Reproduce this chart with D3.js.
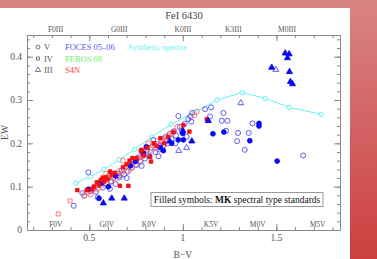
<!DOCTYPE html>
<html>
<head>
<meta charset="utf-8">
<script src="https://cdn.jsdelivr.net/npm/d3@7"></script>
<style>
  body { margin: 0; background: #d98080; }
  svg { display: block; }
</style>
</head>
<body>
<script>
// FeI 6430 equivalent width vs B-V

// synthetic spectra curve
var synthBV = [0.427, 0.504, 0.579, 0.659, 0.742, 0.835, 0.937, 1.06, 1.183, 1.317, 1.44, 1.568, 1.739];
var synthEW = [0.108, 0.123, 0.140, 0.162, 0.186, 0.215, 0.244, 0.271, 0.300, 0.317, 0.304, 0.283, 0.267];

// FOCES 05-06 (blue) [B-V, EW]
var focesOpenV = [[0.417,0.056],[0.463,0.085],[0.473,0.079],[0.495,0.133],[0.505,0.09],[0.52,0.097],[0.535,0.088],
  [0.548,0.104],[0.56,0.112],[0.572,0.098],[0.583,0.118],[0.595,0.106],[0.605,0.125],[0.618,0.112],[0.628,0.12],
  [0.64,0.106],[0.65,0.13],[0.662,0.122],[0.674,0.138],[0.686,0.128],[0.695,0.146],[0.706,0.135],[0.718,0.152],
  [0.728,0.144],[0.74,0.16],[0.752,0.15],[0.763,0.168],[0.774,0.158],[0.786,0.176],[0.797,0.165],[0.808,0.185],
  [0.82,0.172],[0.832,0.19],[0.842,0.208],[0.853,0.18],[0.864,0.198],[0.875,0.186],[0.886,0.205],[0.897,0.195],
  [0.908,0.215],[0.918,0.2],[0.93,0.222],[0.94,0.21],[0.952,0.228],[0.963,0.218],[0.976,0.263],[0.985,0.238],
  [0.995,0.23],[1.01,0.245],[1.029,0.256],[1.045,0.25],[1.05,0.27],[1.04,0.262],[1.119,0.279],[1.151,0.283],
  [1.145,0.262],[1.217,0.270],[1.208,0.252],[1.238,0.252],[1.372,0.246],[1.231,0.229],[1.295,0.224],[1.352,0.224],
  [1.29,0.205],[1.331,0.185],[1.643,0.172],[0.545,0.075],[0.61,0.095],[0.7,0.12],[0.78,0.148],[0.87,0.17],
  [0.96,0.2],[1.02,0.215]];
var focesOpenIV = [[0.66,0.125],[0.82,0.17]];
var focesOpenIII = [[1.497,0.370],[1.310,0.293],[0.978,0.183],[1.02,0.19]];
var focesFilledV = [[0.495,0.094],[0.552,0.073],[0.565,0.108],[0.602,0.1],[0.64,0.125],[0.72,0.148],[0.747,0.158],
  [0.789,0.177],[0.805,0.192],[0.88,0.19],[0.896,0.183],[0.94,0.2],[0.976,0.208],[0.999,0.223],[1.003,0.208],
  [1.161,0.222],[1.219,0.226],[1.358,0.206],[1.407,0.246],[1.407,0.240],[1.504,0.159]];
var focesFilledIII = [[0.575,0.062],[0.62,0.073],[0.687,0.073],[0.93,0.205],[1.0,0.229],[1.048,0.205],[1.136,0.252],
  [1.547,0.408],[1.568,0.406],[1.559,0.397],[1.475,0.375],[1.570,0.365],[1.575,0.342],[1.586,0.337]];

// S4N (red)
var s4nOpenV = [[0.473,0.08],[0.49,0.086],[0.505,0.082],[0.52,0.092],[0.53,0.1],[0.545,0.095],[0.553,0.108],
  [0.565,0.103],[0.575,0.114],[0.588,0.108],[0.6,0.12],[0.612,0.112],[0.625,0.128],[0.638,0.118],[0.65,0.124],
  [0.66,0.136],[0.672,0.13],[0.685,0.142],[0.698,0.136],[0.71,0.15],[0.722,0.142],[0.735,0.158],[0.748,0.152],
  [0.76,0.165],[0.772,0.16],[0.785,0.17],[0.8,0.178],[0.815,0.2],[0.828,0.185],[0.84,0.195],[0.852,0.188],
  [0.865,0.205],[0.88,0.196],[0.895,0.21],[0.91,0.205],[0.925,0.218],[0.945,0.225],[0.97,0.238],[1.06,0.265],
  [1.074,0.273],[0.59,0.13],[0.68,0.16]];
var s4nOpenIV = [[0.334,0.037],[0.397,0.067]];
var s4nFilled = [[0.436,0.092],[0.486,0.092],[0.513,0.094],[0.525,0.1],[0.54,0.11],[0.552,0.104],[0.562,0.116],
  [0.572,0.121],[0.58,0.112],[0.59,0.122],[0.6,0.118],[0.611,0.135],[0.62,0.127],[0.635,0.132],[0.664,0.102],
  [0.709,0.102],[0.68,0.145],[0.7,0.152],[0.715,0.16],[0.73,0.166],[0.753,0.166],[0.775,0.183],[0.78,0.185],
  [0.79,0.172],[0.81,0.19],[0.825,0.169],[0.83,0.158],[0.845,0.2],[0.86,0.194],[0.88,0.212],[0.9,0.2],
  [0.92,0.215],[0.95,0.226],[1.003,0.242],[1.035,0.227],[1.128,0.256]];

// spectral type labels
var giantTypes = ["F0III", "G0III", "K0III", "K3III", "M0III"];
var giantBV = [0.32, 0.66, 1.0, 1.27, 1.557];
var dwarfTypes = ["F0V", "G0V", "K0V", "K5V", "M0V", "M5V"];
var dwarfBV = [0.321, 0.594, 0.82, 1.151, 1.40, 1.72];

var xMajor = [0.5, 1, 1.5];
var yMajor = [0, 0.1, 0.2, 0.3, 0.4];

var W = 377, H = 259;
var svg = d3.select("body").append("svg").attr("width", W).attr("height", H);

// slide background
var defs = svg.append("defs");
var grad = defs.append("linearGradient").attr("id", "bg").attr("x1", 0).attr("y1", 0).attr("x2", 0).attr("y2", 1);
grad.append("stop").attr("offset", "0%").attr("stop-color", "#da8484");
grad.append("stop").attr("offset", "100%").attr("stop-color", "#cc3f3f");
svg.append("rect").attr("width", W).attr("height", H).attr("fill", "url(#bg)");
svg.append("rect").attr("width", W).attr("height", 8).attr("fill", "#d98282");
svg.append("rect").attr("x", 0).attr("y", 8).attr("width", 350).attr("height", H - 8).attr("fill", "#fff");

var pLeft = 27, pRight = 340, pTop = 35, pBottom = 230;
var x = d3.scaleLinear().domain([0.167, 1.84]).range([pLeft, pRight]);
var y = d3.scaleLinear().domain([0, 0.45]).range([pBottom, pTop]);

var axisColor = "#888";
var labelColor = "#555";
var serif = "'Liberation Serif', 'DejaVu Serif', serif";

// ticks (all inside)
var xMinor = d3.range(2, 19).map(function(d) { return d / 10; });
var yMinor = d3.range(0, 23).map(function(d) { return d / 50; });

function ax(gen, tr, vals, size) {
  var g = svg.append("g").attr("transform", tr)
    .call(gen.tickValues(vals).tickSize(size).tickFormat(""));
  g.select(".domain").attr("stroke", axisColor);
  g.selectAll(".tick line").attr("stroke", axisColor);
  return g;
}
ax(d3.axisBottom(x), "translate(0," + pBottom + ")", xMinor, -3);
ax(d3.axisBottom(x), "translate(0," + pBottom + ")", xMajor, -6);
ax(d3.axisTop(x), "translate(0," + pTop + ")", xMinor, -3);
ax(d3.axisTop(x), "translate(0," + pTop + ")", xMajor, -6);
ax(d3.axisLeft(y), "translate(" + pLeft + ",0)", yMinor, -3);
ax(d3.axisLeft(y), "translate(" + pLeft + ",0)", yMajor, -6);
ax(d3.axisRight(y), "translate(" + pRight + ",0)", yMinor, -3);
ax(d3.axisRight(y), "translate(" + pRight + ",0)", yMajor, -6);

// tick labels
svg.selectAll(".xl").data(xMajor).enter().append("text")
  .attr("x", function(d) { return x(d); }).attr("y", 241)
  .attr("text-anchor", "middle").attr("font-family", serif).attr("font-size", 9.5)
  .attr("fill", labelColor).text(function(d) { return d; });
svg.selectAll(".yl").data(yMajor).enter().append("text")
  .attr("x", 22).attr("y", function(d) { return y(d) + 3.3; })
  .attr("text-anchor", "end").attr("font-family", serif).attr("font-size", 9.5)
  .attr("fill", labelColor).text(function(d) { return d; });

svg.append("text").attr("x", x(1)).attr("y", 257.5).attr("text-anchor", "middle")
  .attr("font-family", serif).attr("font-size", 9.5).attr("fill", labelColor).text("B\u2212V");
svg.append("text").attr("transform", "translate(8," + ((pTop + pBottom) / 2) + ") rotate(-90)")
  .attr("text-anchor", "middle").attr("font-family", serif).attr("font-size", 9.5)
  .attr("fill", labelColor).text("EW");

svg.append("text").attr("x", 184).attr("y", 19).attr("text-anchor", "middle")
  .attr("font-family", serif).attr("font-size", 10.5).attr("fill", "#444").text("FeI 6430");

// spectral type labels
svg.selectAll(".gt").data(giantTypes).enter().append("text")
  .attr("x", function(d, i) { return x(giantBV[i]); }).attr("y", 31.5)
  .attr("text-anchor", "middle").attr("font-family", serif).attr("font-size", 7.5)
  .attr("fill", labelColor).text(function(d) { return d; });
svg.selectAll(".dt").data(dwarfTypes).enter().append("text")
  .attr("x", function(d, i) { return x(dwarfBV[i]); }).attr("y", 227)
  .attr("text-anchor", "middle").attr("font-family", serif).attr("font-size", 7.5)
  .attr("fill", labelColor).text(function(d) { return d; });

// synthetic spectra
var synth = synthBV.map(function(d, i) { return [d, synthEW[i]]; });
var cyan = "#66f2f2";
svg.append("path").datum(synth)
  .attr("d", d3.line().x(function(d) { return x(d[0]); }).y(function(d) { return y(d[1]); }))
  .attr("fill", "none").attr("stroke", cyan).attr("stroke-width", 1);
svg.selectAll(".sy").data(synth).enter().append("circle")
  .attr("cx", function(d) { return x(d[0]); }).attr("cy", function(d) { return y(d[1]); })
  .attr("r", 2.2).attr("fill", "#fff").attr("stroke", cyan).attr("stroke-width", 1);

// markers
var blueOpen = "#4d4df2", blueFill = "#0a0af0", redFill = "#f21010", redOpen = "#ff6a6a";
function marks(data, type, size, fill, stroke) {
  svg.append("g").selectAll("path").data(data).enter().append("path")
    .attr("transform", function(d) { return "translate(" + x(d[0]) + "," + y(d[1]) + ")"; })
    .attr("d", d3.symbol().type(type).size(size))
    .attr("fill", fill).attr("stroke", stroke).attr("stroke-width", 0.9);
}
marks(focesOpenV, d3.symbolCircle, 20, "none", blueOpen);
marks(focesOpenIV, d3.symbolSquare, 16, "none", blueOpen);
marks(s4nOpenV, d3.symbolCircle, 20, "none", redOpen);
marks(s4nOpenIV, d3.symbolSquare, 16, "none", redOpen);
marks(focesOpenIII, d3.symbolTriangle, 15, "none", blueOpen);
marks(focesFilledV, d3.symbolCircle, 18, blueFill, blueFill);
marks(s4nFilled, d3.symbolSquare, 12, redFill, redFill);
marks(focesFilledIII, d3.symbolTriangle, 16, blueFill, blueFill);

// legend
var legTypes = [["V", d3.symbolCircle], ["IV", d3.symbolSquare], ["III", d3.symbolTriangle]];
var legY = [47, 58.5, 70];
legTypes.forEach(function(t, i) {
  svg.append("path").attr("transform", "translate(38," + legY[i] + ")")
    .attr("d", d3.symbol().type(t[1]).size(t[1] === d3.symbolSquare ? 9 : 12))
    .attr("fill", "none").attr("stroke", labelColor).attr("stroke-width", 0.8);
  svg.append("text").attr("x", 44).attr("y", legY[i] + 3).attr("font-family", serif)
    .attr("font-size", 8.5).attr("fill", labelColor).text(t[0]);
});
var surveys = [["FOCES 05\u201306", "#5656f5"], ["FEROS 08", "#6ef06e"], ["S4N", "#ff4040"]];
surveys.forEach(function(s, i) {
  svg.append("text").attr("x", 65).attr("y", legY[i] + 3).attr("font-family", serif)
    .attr("font-size", 8.5).attr("fill", s[1]).text(s[0]);
});
svg.append("text").attr("x", 128).attr("y", legY[0] + 3).attr("font-family", serif)
  .attr("font-size", 8.5).attr("fill", cyan).text("Synthetic spectra");

// note box
svg.append("rect").attr("x", 151).attr("y", 192.5).attr("width", 172).attr("height", 14)
  .attr("fill", "#fff").attr("stroke", "#999").attr("stroke-width", 1);
var note = svg.append("text").attr("x", 237).attr("y", 203).attr("text-anchor", "middle")
  .attr("font-family", serif).attr("font-size", 9.5).attr("fill", "#111");
note.append("tspan").text("Filled symbols: ");
note.append("tspan").attr("font-weight", "bold").text("MK");
note.append("tspan").text(" spectral type standards");
</script>
</body>
</html>
